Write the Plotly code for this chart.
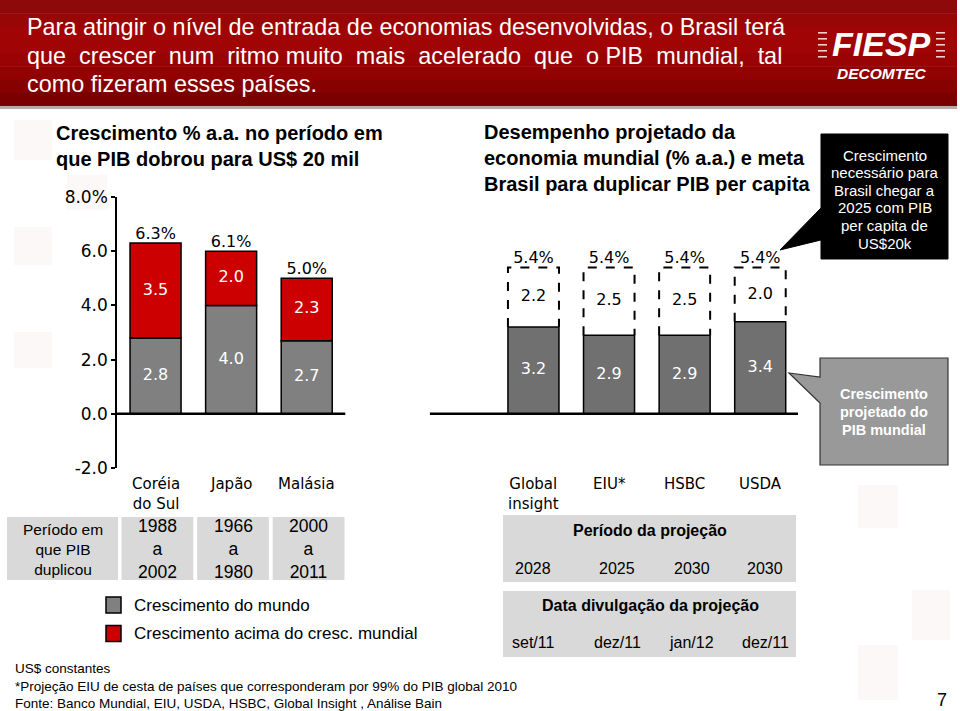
import plotly.graph_objects as go

# ---------------- data ----------------
hist_countries = ["Coréia<br>do Sul", "Japão", "Malásia"]
hist_world = [2.8, 4.0, 2.7]
hist_above = [3.5, 2.0, 2.3]
hist_total_labels = ["6.3%", "6.1%", "5.0%"]
hist_period_start = ["1988", "1966", "2000"]
hist_period_end = ["2002", "1980", "2011"]

proj_sources = ["Global<br>insight", "EIU*", "HSBC", "USDA"]
proj_world = [3.2, 2.9, 2.9, 3.4]
proj_gap = [2.2, 2.5, 2.5, 2.0]
proj_total_labels = ["5.4%", "5.4%", "5.4%", "5.4%"]
proj_period = ["2028", "2025", "2030", "2030"]
proj_release = ["set/11", "dez/11", "jan/12", "dez/11"]

y_ticks = [-2, 0, 2, 4, 6, 8]
y_tick_labels = ["-2.0", "0.0", "2.0", "4.0", "6.0", "8.0%"]

title_lines = ["Para atingir o nível de entrada de economias desenvolvidas, o Brasil terá",
               "que crescer num ritmo muito mais acelerado que o PIB mundial, tal",
               "como fizeram esses países."]
left_title = "Crescimento % a.a. no período em<br>que PIB dobrou para US$ 20 mil"
right_title = "Desempenho projetado da<br>economia mundial (% a.a.) e meta<br>Brasil para duplicar PIB per capita"
callout_black = ["Crescimento", "necessário para", "Brasil chegar a", "2025 com PIB", "per capita de", "US$20k"]
callout_gray = ["Crescimento", "projetado do", "PIB mundial"]
legend_labels = ["Crescimento do mundo", "Crescimento acima do cresc. mundial"]
footnotes = ["US$ constantes",
             "*Projeção EIU de cesta de países que corresponderam por 99% do PIB global 2010",
             "Fonte: Banco Mundial, EIU, USDA, HSBC, Global Insight , Análise Bain"]

# ---------------- style ----------------
GRAY = "#808080"
GRAY_R = "#707070"
RED = "#CC0000"
TABLE = "#D9D9D9"
ARIAL = "Liberation Sans, Arial, sans-serif"
VERD = "DejaVu Sans, Verdana, sans-serif"

W, H = 960, 711
L, R, T, B = 117, 798, 197, 468  # plot area in pixels
BW = 0.675

hist_x = list(range(len(hist_world)))
proj_x = [len(hist_world) + 2 + i for i in range(len(proj_world))]


def px(v):
    return (v - L) / (R - L)


def py(v):
    return (B - v) / (B - T)


fig = go.Figure()

# bars
fig.add_trace(go.Bar(x=hist_x, y=hist_world, width=BW, marker=dict(color=GRAY, line=dict(color="black", width=1.5))))
fig.add_trace(go.Bar(x=hist_x, y=hist_above, base=hist_world, width=BW,
                     marker=dict(color=RED, line=dict(color="black", width=1.5))))
fig.add_trace(go.Bar(x=proj_x, y=proj_world, width=BW, marker=dict(color=GRAY_R, line=dict(color="black", width=1.5))))

# dashed boxes for required growth
dx, dy = [], []
for p, w, g in zip(proj_x, proj_world, proj_gap):
    dx += [p - BW / 2, p - BW / 2, p + BW / 2, p + BW / 2, None]
    dy += [w, w + g, w + g, w, None]
fig.add_trace(go.Scatter(x=dx, y=dy, mode="lines", line=dict(color="black", width=2, dash="dash"),
                         hoverinfo="skip"))

# inside labels
fig.add_trace(go.Scatter(x=hist_x, y=[v / 2 for v in hist_world], mode="text",
                         text=[f"{v:.1f}" for v in hist_world],
                         textfont=dict(family=VERD, size=16, color="white"), hoverinfo="skip"))
fig.add_trace(go.Scatter(x=hist_x, y=[w + a / 2 for w, a in zip(hist_world, hist_above)], mode="text",
                         text=[f"{v:.1f}" for v in hist_above],
                         textfont=dict(family=VERD, size=16, color="white"), hoverinfo="skip"))
fig.add_trace(go.Scatter(x=proj_x, y=[v / 2 for v in proj_world], mode="text",
                         text=[f"{v:.1f}" for v in proj_world],
                         textfont=dict(family=VERD, size=16, color="white"), hoverinfo="skip"))
fig.add_trace(go.Scatter(x=proj_x, y=[w + g / 2 for w, g in zip(proj_world, proj_gap)], mode="text",
                         text=[f"{v:.1f}" for v in proj_gap],
                         textfont=dict(family=VERD, size=16, color="black"), hoverinfo="skip"))
# totals
fig.add_trace(go.Scatter(x=hist_x, y=[w + a for w, a in zip(hist_world, hist_above)], mode="text",
                         text=hist_total_labels, textposition="top center", cliponaxis=False,
                         textfont=dict(family=VERD, size=16, color="black"), hoverinfo="skip"))
fig.add_trace(go.Scatter(x=proj_x, y=[w + g for w, g in zip(proj_world, proj_gap)], mode="text",
                         text=proj_total_labels, textposition="top center", cliponaxis=False,
                         textfont=dict(family=VERD, size=16, color="black"), hoverinfo="skip"))

shapes = []
annotations = []


def ann(text, x, y, size, color="black", family=ARIAL, xanchor="center", yanchor="middle",
        xref="paper", align="center", xshift=0):
    annotations.append(dict(text=text, x=px(x) if xref == "paper" else x, y=py(y), xref=xref, yref="paper",
                            showarrow=False, font=dict(family=family, size=size, color=color),
                            xanchor=xanchor, yanchor=yanchor, align=align, xshift=xshift))


def rect(x0, y0, x1, y1, fill, line_color=None, lw=0, xref="paper"):
    shapes.append(dict(type="rect", xref=xref, yref="paper",
                       x0=px(x0) if xref == "paper" else x0, x1=px(x1) if xref == "paper" else x1,
                       y0=py(y0), y1=py(y1), fillcolor=fill,
                       line=dict(color=line_color or fill, width=lw), layer="below"))


def path(pts, fill, line_color, lw):
    d = "M " + " L ".join(f"{px(a):.5f},{py(b):.5f}" for a, b in pts) + " Z"
    shapes.append(dict(type="path", path=d, xref="paper", yref="paper", fillcolor=fill,
                       line=dict(color=line_color, width=lw), layer="above"))


# faint decorative squares
for (x0, y0, x1, y1) in [(14, 120, 52, 160), (67, 175, 107, 210), (14, 227, 52, 265), (14, 332, 52, 368),
                         (858, 485, 898, 528), (858, 645, 898, 700), (912, 590, 950, 640)]:
    rect(x0, y0, x1, y1, "#FDF8F8")

# header band (vertical gradient approximation)
band_cols = ["#8E0A0A", "#990606", "#A00404", "#A00404", "#9A0303", "#920202", "#870101", "#7A0000"]
n = len(band_cols)
for i, c in enumerate(band_cols):
    rect(0, 106 * i / n, 957, 106 * (i + 1) / n + 0.5, c)
rect(0, 106, 957, 109, "#B9A9A9")

# title (line 2 is justified in the original: widen most of its word gaps)
title_y = [27, 56, 84]
for i, line in enumerate(title_lines):
    if i == 1:
        words = line.split(" ")
        txt = words[0]
        for k, wd in enumerate(words[1:]):
            txt += (" " if k in (3, 8) else " \u00a0") + wd
    else:
        txt = line
    ann(txt, 25, title_y[i], 23.4, color="white", xanchor="left", align="left")

# FIESP logo
ann("<b><i>FIESP</i></b>", 881, 44, 34, color="white")
ann("<b><i>DECOMTEC</i></b>", 882, 73, 15.5, color="white")
for k in range(5):
    yy = 32 + k * 6
    rect(818, yy, 827, yy + 1.6, "#F2D0D0")
    rect(936, yy, 945, yy + 1.6, "#F2D0D0")

# section titles
ann("<b>" + left_title + "</b>", 54, 146, 20, xanchor="left", align="left")
ann("<b>" + right_title + "</b>", 482, 158, 20, xanchor="left", align="left")

# baselines at zero (broken between panels)
shapes.append(dict(type="line", xref="x", yref="y", x0=hist_x[0] - 0.51, x1=hist_x[-1] + 0.51, y0=0, y1=0,
                   line=dict(color="black", width=2.5), layer="above"))
shapes.append(dict(type="line", xref="x", yref="y", x0=proj_x[0] - 1.37, x1=proj_x[-1] + 0.5, y0=0, y1=0,
                   line=dict(color="black", width=2.5), layer="above"))

# category labels
for p, name in zip(hist_x, hist_countries):
    ann(name, p, 473, 15, family=VERD, xref="x", yanchor="top")
for p, name in zip(proj_x, proj_sources):
    ann(name, p, 473, 15, family=VERD, xref="x", yanchor="top")

# left table
rect(7, 517, 118, 580, TABLE)
ann("Período em<br>que PIB<br>duplicou", 62.5, 549, 15.5)
for p, s, e in zip(hist_x, hist_period_start, hist_period_end):
    rect(p - 0.45, 517, p + 0.5, 580, TABLE, xref="x")
    ann(f"{s}<br>a<br>{e}", p + 0.03, 549, 17.5, xref="x")

# right tables
rect(503, 515, 796, 582, TABLE)
rect(503, 591, 796, 657, TABLE)
ann("<b>Período da projeção</b>", 650, 530, 16)
ann("<b>Data divulgação da projeção</b>", 650, 605, 16)
shifts = [0, 8, 7, 5]
for p, v, d, s in zip(proj_x, proj_period, proj_release, shifts):
    ann(v, p, 568, 16, xref="x", xshift=s)
    ann(d, p, 642, 16, xref="x", xshift=s)

# legend
for i, (lab, col) in enumerate(zip(legend_labels, [GRAY, RED])):
    y0 = 597 + i * 28.5
    shapes.append(dict(type="rect", xref="paper", yref="paper", x0=px(106), x1=px(121), y0=py(y0), y1=py(y0 + 16),
                       fillcolor=col, line=dict(color="black", width=1.5)))
    ann(lab, 132, y0 + 8, 17, xanchor="left")

# black callout
path([(821, 134), (948, 134), (948, 259), (821, 259), (821, 240), (780, 250), (821, 208)], "black", "black", 1)
for i, line in enumerate(callout_black):
    ann(line, 884.5, 155 + i * 17.6, 15, color="white")

# gray callout
path([(820, 358), (948, 358), (948, 465), (820, 465), (820, 403), (789, 373), (820, 377)], "#999999", "#333333", 1.2)
for i, line in enumerate(callout_gray):
    ann("<b>" + line + "</b>", 884, 394 + i * 18, 14.5, color="white")

# footnotes
ann("<br>".join(footnotes), 13, 686, 13.5, xanchor="left", align="left")
ann("7", 942, 700, 18)

fig.update_layout(
    width=W, height=H, autosize=False,
    margin=dict(l=L, r=W - R, t=T, b=H - B, pad=0),
    paper_bgcolor="white", plot_bgcolor="rgba(0,0,0,0)",
    barmode="overlay", showlegend=False,
    xaxis=dict(range=[-0.51, 8.5], visible=False, showgrid=False, zeroline=False, fixedrange=True),
    yaxis=dict(range=[-2, 8], tickvals=y_ticks, ticktext=y_tick_labels, ticks="outside", ticklen=4,
               tickwidth=1.5, tickcolor="black", showline=True, linecolor="black", linewidth=1.5,
               showgrid=False, zeroline=False, tickfont=dict(family=VERD, size=17, color="black"),
               fixedrange=True),
    shapes=shapes, annotations=annotations,
)

fig.write_html("out.html", config={"displayModeBar": False},
               post_script="document.body.style.margin='0';document.body.style.overflow='hidden';")
